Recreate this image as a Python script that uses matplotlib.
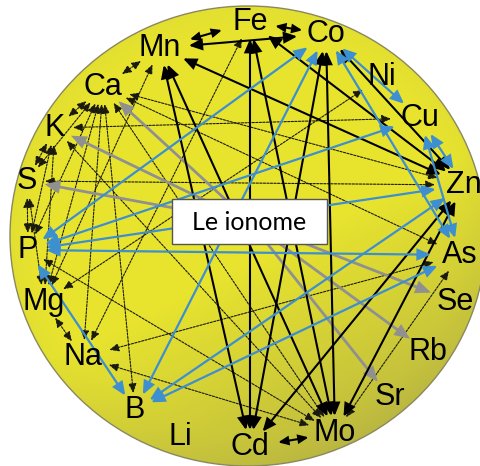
import numpy as np
import matplotlib.pyplot as plt
from matplotlib.patches import Ellipse, Rectangle, FancyArrowPatch

# elements placed around the ring
elements = ["Fe", "Co", "Ni", "Cu", "Zn", "As", "Se", "Rb", "Sr", "Mo",
            "Cd", "Li", "B", "Na", "Mg", "P", "S", "K", "Ca", "Mn"]
center_label = "Le ionome"

# links between elements, one list per kind of link
black_links = [("Mn", "Co"), ("Mn", "Zn"), ("Fe", "Zn"), ("Co", "Zn"),
               ("Mn", "Cd"), ("Fe", "Cd"), ("Co", "Cd"), ("Zn", "Cd"),
               ("Mn", "Mo"), ("Fe", "Mo"), ("Co", "Mo"), ("Zn", "Mo")]
short_links = [("Mn", "Fe"), ("Fe", "Co"), ("Cd", "Mo")]
blue_links = [("P", "Co"), ("P", "Cu"), ("P", "Zn"), ("P", "As"), ("P", "B"),
              ("B", "Co"), ("B", "Zn"), ("B", "As"), ("Co", "Cu"),
              ("Co", "As"), ("Cu", "Zn"), ("Cu", "As")]
gray_links = ["Ca", "K", "S", "Se", "Rb", "Sr"]
dotted_links = [("Ca", "Mn"), ("Mg", "Mn"), ("Na", "Fe"), ("Ca", "Zn"),
                ("Ca", "As"), ("S", "Zn"), ("K", "Ca"), ("S", "Ca"),
                ("S", "K"), ("P", "K"), ("P", "S"), ("P", "Ca"),
                ("Mg", "Ca"), ("Na", "Ca"), ("Mg", "S"), ("Mg", "K"),
                ("Na", "Mg"), ("Na", "As"), ("Na", "Mo"), ("Mo", "As"),
                ("Mg", "Ni"), ("Ca", "Mo"), ("K", "Mo"), ("P", "Mo"),
                ("B", "Ca"), ("K", "Cu")]

# layout (pixel coordinates): label centres
label_pos = {"Fe": (250, 22), "Co": (326, 34), "Ni": (382, 77), "Cu": (420, 118),
             "Zn": (464, 185), "As": (460, 255), "Se": (455, 302), "Rb": (428, 352),
             "Sr": (390, 397), "Mo": (335, 433), "Cd": (250, 447), "Li": (180, 437),
             "B": (135, 410), "Na": (83, 357), "Mg": (44, 302), "P": (28, 250),
             "S": (27, 181), "K": (55, 128), "Ca": (103, 87), "Mn": (160, 48)}
center_pt = (250, 222)

W, H = 481, 466
fig = plt.figure(figsize=(4.81, 4.66), dpi=100)
ax = fig.add_axes([0, 0, 1, 1])

# yellow disc with a soft shading towards the lower right
yy, xx = np.mgrid[0:H, 0:W]
proj = (xx - 150) * 0.45 + (yy - 120) * 0.9
t = np.clip((proj - 170) / 320, 0, 1)
rr = ((xx - 248) / 238) ** 2 + ((yy - 236) / 231) ** 2
t = np.clip(t + 0.3 * np.clip(rr - 0.75, 0, 1), 0, 1)
bright = np.array([232, 228, 46]) / 255
dark = np.array([168, 166, 72]) / 255
img = bright * (1 - t[..., None]) + dark * t[..., None]
disk = Ellipse((248, 236), 476, 460, fc='none', ec='#8a8860', lw=1, zorder=1)
ax.add_patch(disk)
im = ax.imshow(img, extent=(0, W, H, 0), zorder=0)
im.set_clip_path(disk)


def end_point(name, other):
    # point on a small ellipse round the label, facing the other end
    c = np.array(label_pos[name], float)
    d = np.array(other, float) - c
    d /= np.hypot(*d)
    rx, ry = 7 + 11 * len(name), 17
    s = 1 / np.sqrt((d[0] / rx) ** 2 + (d[1] / ry) ** 2)
    return c + d * s


def arrow(p, q, color, lw, style='<|-|>', ls='-', ms=11, z=3):
    a = FancyArrowPatch(p, q, arrowstyle=style + ',head_length=0.7,head_width=0.3',
                        mutation_scale=ms, color=color, lw=lw, linestyle=ls,
                        shrinkA=0, shrinkB=0, zorder=z, joinstyle='miter')
    ax.add_patch(a)


def link(a, b, **kw):
    pa, pb = label_pos[a], label_pos[b]
    arrow(end_point(a, pb), end_point(b, pa), **kw)


for a, b in dotted_links:
    link(a, b, color='#1a1a10', lw=0.8, ls=(0, (2, 1.2)), ms=8, z=2)

for el in gray_links:
    arrow(center_pt, end_point(el, center_pt), '#909090', 2.0, style='-|>', z=3)

for a, b in black_links:
    link(a, b, color='black', lw=1.5, z=4)

for a, b in blue_links:
    link(a, b, color='#3d8fcf', lw=1.6, z=5)

for a, b in short_links:
    pa, pb = np.array(label_pos[a]), np.array(label_pos[b])
    arrow(pa + (pb - pa) * 0.33, pa + (pb - pa) * 0.69, 'black', 1.5, ms=8, z=4)

for el in elements:
    x, y = label_pos[el]
    ax.text(x, y, el, ha='center', va='center', fontsize=22,
            family='Liberation Sans', color='black', zorder=6)

ax.add_patch(Rectangle((172, 199), 155, 45, fc='white', ec='#555555', lw=1, zorder=7))
ax.text(249.5, 222, center_label, ha='center', va='center', fontsize=18,
        family='Lato', color='black', zorder=8)

ax.set_xlim(0, W)
ax.set_ylim(H, 0)
ax.axis('off')
fig.savefig('out.png', dpi=100)
